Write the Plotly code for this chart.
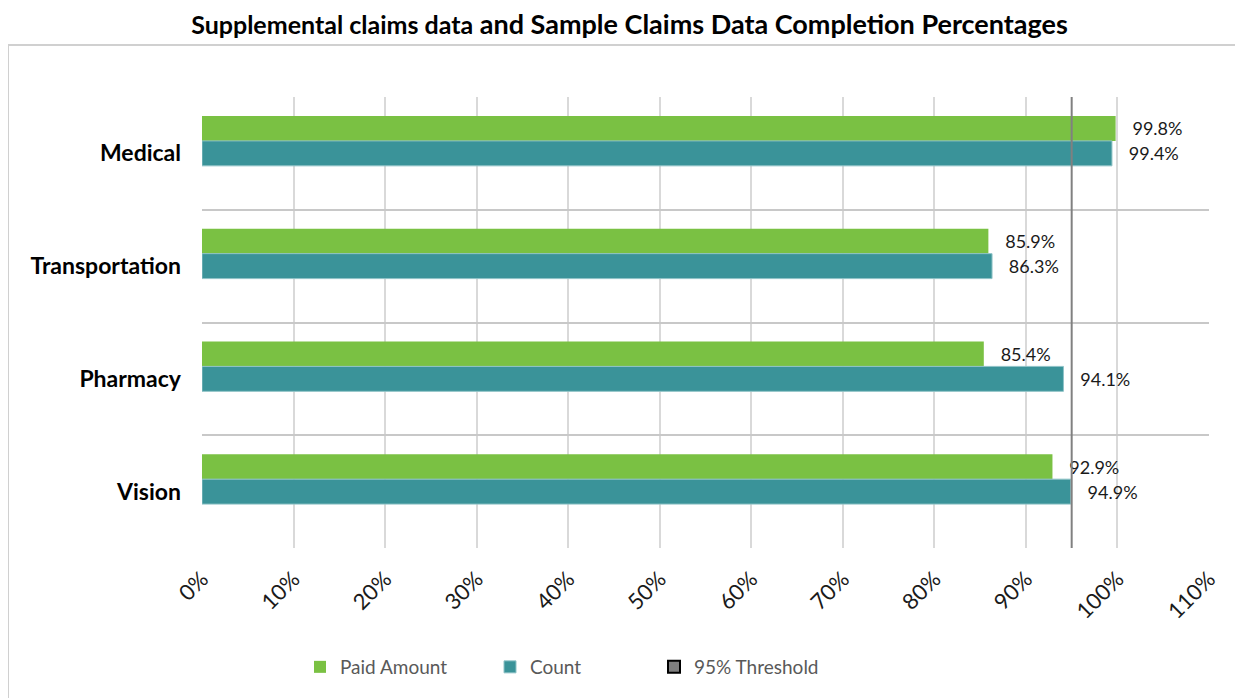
import plotly.graph_objects as go

categories = ["Medical", "Transportation", "Pharmacy", "Vision"]
paid_amount = [0.998, 0.859, 0.854, 0.929]
count = [0.994, 0.863, 0.941, 0.949]
threshold = 0.95
x_ticks = [i / 10 for i in range(12)]

GREEN = "#7AC143"
TEAL = "#3A9399"
FONT = "Lato"

# page has an 8px body margin; figure sized to fit the window
W, H = 1235, 690
L, R, T, B = 194, 34, 89, 150
PW, PH = W - L - R, H - T - B


def px_x(page_x):
    return (page_x - 8 - L) / PW


def px_y(page_y):
    return (H - B - (page_y - 8)) / PH


def labels(vals):
    return ["   " + f"{v*100:.1f}%" for v in vals]


fig = go.Figure()
fig.add_trace(go.Bar(
    y=categories, x=paid_amount, orientation="h", name="Paid Amount",
    marker=dict(color=GREEN, line=dict(width=0)),
    text=labels(paid_amount), textposition="outside", cliponaxis=False,
    textfont=dict(family=FONT, size=18, color="#1a1a1a"), legend="legend",
))
fig.add_trace(go.Bar(
    y=categories, x=count, orientation="h", name="Count",
    marker=dict(color=TEAL, line=dict(width=1, color="#8fc3c7")),
    text=labels(count), textposition="outside", cliponaxis=False,
    textfont=dict(family=FONT, size=18, color="#1a1a1a"), legend="legend2",
))
fig.add_trace(go.Bar(
    y=categories, x=[None] * len(categories), orientation="h", name="95% Threshold",
    marker=dict(color="#7f7f7f", line=dict(width=2, color="#000000")),
    legend="legend3", hoverinfo="skip",
))

fig.add_shape(type="line", xref="x", yref="paper", x0=threshold, x1=threshold,
              y0=0, y1=1, line=dict(color="#808080", width=2), layer="above")

# outer chart border
fig.add_shape(type="rect", xref="paper", yref="paper",
              x0=px_x(8), x1=px_x(1260),
              y0=px_y(760), y1=px_y(45),
              line=dict(color="#d0d0d0", width=2), layer="below")


def leg(xpx):
    return dict(orientation="h", yanchor="middle", y=px_y(667),
                xanchor="left", x=px_x(xpx),
                font=dict(family=FONT, size=19, color="#595959"),
                itemwidth=30, bgcolor="rgba(0,0,0,0)")


fig.update_layout(
    width=W, height=H,
    margin=dict(l=L, r=R, t=T, b=B, autoexpand=False),
    paper_bgcolor="white", plot_bgcolor="white",
    barmode="group", bargap=0.336, bargroupgap=0,
    showlegend=True,
    title=dict(
        text="<span style='font-size:25px'>Supplemental claims data</span> and Sample Claims Data Completion Percentages",
        font=dict(family=FONT, size=27, color="#000000", weight="bold"),
        x=(629.5 - 8) / W, xanchor="center", y=1 - 17 / H, yanchor="middle",
    ),
    xaxis=dict(
        range=[0, 1.1], tickvals=x_ticks, tickformat=".0%", tickangle=-45,
        showgrid=True, gridcolor="#d9d9d9", gridwidth=2, zeroline=False,
        showline=False, ticks="", ticklabelstandoff=13,
        tickfont=dict(family=FONT, size=22, color="#1a1a1a"),
    ),
    yaxis=dict(
        categoryorder="array", categoryarray=categories, autorange="reversed",
        tickson="boundaries", showgrid=True, gridcolor="#c8c8c8", gridwidth=2,
        showline=False, ticks="", ticklabelstandoff=20,
        tickfont=dict(family=FONT, size=23, color="#000000", weight="bold"),
    ),
    legend=leg(300),
    legend2=leg(490),
    legend3=leg(654),
)

fig.write_html("out.html")
